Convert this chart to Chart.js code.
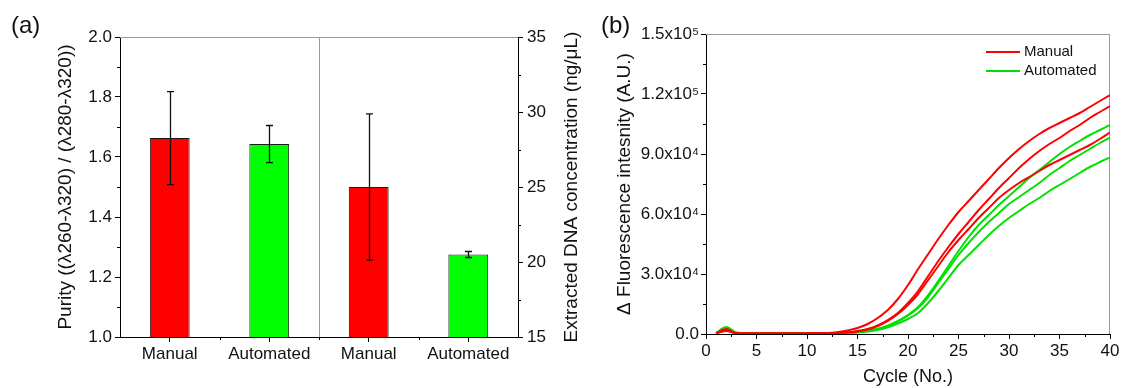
<!DOCTYPE html>
<html>
<head>
<meta charset="utf-8">
<script src="https://cdn.jsdelivr.net/npm/chart.js@4.4.1/dist/chart.umd.min.js"></script>
<style>
  html, body { margin: 0; padding: 0; background: #fff; }
  #wrap { position: relative; width: 1123px; height: 388px; overflow: hidden; }
  canvas { position: absolute; top: 0; }
  #chartA { left: 0; }
  #chartB { left: 590px; }
  .tag { position: absolute; font: 24px "Liberation Sans", Arial, sans-serif; color: #111; }
</style>
</head>
<body>
<div id="wrap">
  <canvas id="chartA" width="590" height="388"></canvas>
  <canvas id="chartB" width="533" height="388"></canvas>
  <div class="tag" style="left:11px;top:11px">(a)</div>
  <div class="tag" style="left:601px;top:11px">(b)</div>
</div>
<script>
// ---- panel (a): purity / concentration ----
const barLabels   = ['Manual', 'Automated', 'Manual', 'Automated'];
const purityMeans = [1.663, 1.643, null, null];
const puritySD    = [0.155, 0.062, null, null];
const concMeans   = [null, null, 25.0, 20.5];
const concSD      = [null, null, 4.87, 0.20];
const barColors   = ['#ff0000', '#00ff00', '#ff0000', '#00ff00'];
const purityMinor = [1.1, 1.3, 1.5, 1.7, 1.9];
const concMinor   = [17.5, 22.5, 27.5, 32.5];
const catBounds   = [0.5, 1.5, 2.5];

// ---- panel (b): amplification curves ----
const cycles = [1, 2, 3, 4, 5, 6, 7, 8, 9, 10, 11, 12, 13, 14, 15, 16, 17, 18, 19, 20,
                21, 22, 23, 24, 25, 26, 27, 28, 29, 30, 31, 32, 33, 34, 35, 36, 37, 38, 39, 40];
const manualA = [500, 1500, 400, 300, 300, 300, 300, 300, 300, 300, 400, 500, 900, 1800, 3000, 5000, 8000, 12000, 17500, 24500,
                 32500, 40000, 47500, 54500, 61000, 66500, 72000, 77500, 83000, 88000, 92500, 96500, 100000, 103000, 105500, 108000, 110500, 113500, 116500, 119500];
const manualB = [400, 1800, 300, 300, 300, 300, 300, 300, 300, 300, 400, 500, 600, 900, 1500, 2500, 4300, 7000, 10500, 15500,
                 21500, 29000, 36500, 43500, 50000, 56000, 62000, 67500, 73000, 78000, 83000, 87500, 91500, 95000, 98000, 101500, 104500, 108000, 111000, 114000];
const manualC = [300, 2500, 300, 300, 300, 300, 300, 300, 300, 300, 400, 500, 500, 800, 1300, 2200, 3900, 6500, 10000, 14500,
                 20000, 27000, 34000, 41000, 47000, 52500, 58000, 63000, 68000, 72000, 75500, 78500, 81500, 84500, 87000, 89500, 92000, 94500, 97500, 100800];
const autoA   = [500, 3500, 800, 400, 400, 400, 400, 400, 400, 400, 400, 500, 500, 700, 1000, 1600, 2600, 4200, 6500, 9500,
                 13500, 19500, 26500, 34000, 41500, 48500, 54500, 59500, 64500, 69000, 73500, 78000, 82000, 86000, 90000, 93500, 96500, 99500, 102000, 104500];
const autoB   = [400, 2500, 600, 400, 400, 400, 400, 400, 400, 400, 400, 450, 500, 650, 900, 1400, 2400, 4000, 6200, 9300,
                 13000, 18500, 25500, 32500, 39500, 45500, 51000, 56000, 60500, 65000, 68500, 72000, 75500, 79500, 83000, 86500, 89500, 92500, 95500, 98200];
const autoC   = [300, 2000, 500, 400, 400, 400, 400, 400, 400, 400, 400, 450, 450, 550, 800, 1200, 2000, 3300, 5200, 7500,
                 10500, 15500, 21500, 28000, 34500, 39500, 44500, 49500, 54000, 58000, 61500, 65000, 68000, 71500, 74500, 77500, 80500, 83500, 86000, 88300];
const fluoMinor  = [15000, 45000, 75000, 105000, 135000];
const cycleMinor = [2.5, 7.5, 12.5, 17.5, 22.5, 27.5, 32.5, 37.5];

const FONT = '"Liberation Sans", Arial, sans-serif';
const TXT = '#111';
const RED = '#ff0000';
const GREEN = '#00e000';

const axisLine = { color: '#000', width: 1 };
const outTicks = { drawOnChartArea: false, drawTicks: true, tickLength: 5, tickColor: '#000', tickWidth: 1 };
const tickFont = { family: FONT, size: 17 };
const titleFont = { family: FONT, size: 19 };

// short outward ticks between the labelled ones
const minorTicks = {
  id: 'minorTicks',
  afterDraw(chart, args, opts) {
    const ctx = chart.ctx;
    ctx.save();
    ctx.strokeStyle = '#000';
    ctx.lineWidth = 1;
    (opts.list || []).forEach(({ axis, values }) => {
      const s = chart.scales[axis];
      values.forEach(v => {
        const p = Math.round(s.getPixelForValue(v)) + 0.5;
        ctx.beginPath();
        if (s.isHorizontal()) { ctx.moveTo(p, s.top); ctx.lineTo(p, s.top + 3); }
        else if (s.position === 'left') { ctx.moveTo(s.right, p); ctx.lineTo(s.right - 3, p); }
        else { ctx.moveTo(s.left, p); ctx.lineTo(s.left + 3, p); }
        ctx.stroke();
      });
    });
    ctx.restore();
  }
};

// grey top/right frame and the divider in (a)
const frame = {
  id: 'frame',
  beforeDatasetsDraw(chart, args, opts) {
    const { left, right, top, bottom } = chart.chartArea;
    const ctx = chart.ctx;
    ctx.save();
    ctx.strokeStyle = '#9a9a9a';
    ctx.lineWidth = 1;
    ctx.beginPath();
    ctx.moveTo(left, top + 0.5); ctx.lineTo(right, top + 0.5);
    if (opts.rightEdge) { ctx.moveTo(right - 0.5, top); ctx.lineTo(right - 0.5, bottom); }
    if (opts.divider != null) {
      const x = Math.round(chart.scales.x.getPixelForValue(opts.divider)) + 0.5;
      ctx.moveTo(x, top); ctx.lineTo(x, bottom);
    }
    ctx.stroke();
    ctx.restore();
  }
};

// right-hand title that reads bottom-to-top, like the left one
const rightTitle = {
  id: 'rightTitle',
  afterDraw(chart, args, opts) {
    const s = chart.scales[opts.axis];
    const ctx = chart.ctx;
    ctx.save();
    ctx.translate(s.right - opts.inset, (s.top + s.bottom) / 2);
    ctx.rotate(-Math.PI / 2);
    ctx.font = titleFont.size + 'px ' + FONT;
    ctx.fillStyle = TXT;
    ctx.textAlign = 'center';
    ctx.textBaseline = 'middle';
    ctx.fillText(opts.text, 0, 0);
    ctx.restore();
  }
};

const errorBars = {
  id: 'errorBars',
  afterDatasetsDraw(chart) {
    const ctx = chart.ctx;
    ctx.save();
    ctx.strokeStyle = '#111';
    ctx.lineWidth = 1.3;
    chart.data.datasets.forEach((ds, i) => {
      const meta = chart.getDatasetMeta(i);
      const ys = chart.scales[ds.yAxisID];
      meta.data.forEach((bar, j) => {
        const v = ds.data[j], e = ds.errors[j];
        if (v == null || e == null) return;
        const x = Math.round(bar.x) + 0.5;
        const y1 = ys.getPixelForValue(v + e), y2 = ys.getPixelForValue(v - e);
        ctx.beginPath();
        ctx.moveTo(x, y1); ctx.lineTo(x, y2);
        ctx.moveTo(x - 3.5, y1); ctx.lineTo(x + 3.5, y1);
        ctx.moveTo(x - 3.5, y2); ctx.lineTo(x + 3.5, y2);
        ctx.stroke();
      });
    });
    ctx.restore();
  }
};

const lineLegend = {
  id: 'lineLegend',
  afterDraw(chart, args, opts) {
    const ctx = chart.ctx;
    ctx.save();
    ctx.font = '15px ' + FONT;
    ctx.textBaseline = 'middle';
    opts.items.forEach((idx, k) => {
      const ds = chart.data.datasets[idx];
      const y = opts.y[k];
      ctx.strokeStyle = ds.borderColor;
      ctx.lineWidth = 2;
      ctx.beginPath(); ctx.moveTo(opts.x, y); ctx.lineTo(opts.x + 34, y); ctx.stroke();
      ctx.fillStyle = TXT;
      ctx.fillText(ds.label, opts.x + 38, y);
    });
    ctx.restore();
  }
};

const barStyle = { borderColor: '#1a1a1a', borderWidth: 1, barPercentage: 0.4, categoryPercentage: 1, grouped: false };

new Chart(document.getElementById('chartA'), {
  type: 'bar',
  data: {
    labels: barLabels,
    datasets: [
      { label: 'Purity', data: purityMeans, errors: puritySD, yAxisID: 'y', backgroundColor: barColors, ...barStyle },
      { label: 'Concentration', data: concMeans, errors: concSD, yAxisID: 'y1', backgroundColor: barColors, ...barStyle },
    ],
  },
  options: {
    responsive: false,
    animation: false,
    layout: { padding: { top: 37, right: 0, left: 0, bottom: 0 } },
    plugins: {
      legend: { display: false },
      tooltip: { enabled: false },
      minorTicks: { list: [{ axis: 'y', values: purityMinor }, { axis: 'y1', values: concMinor }, { axis: 'x', values: catBounds }] },
      frame: { divider: 1.5 },
      rightTitle: { axis: 'y1', text: 'Extracted DNA concentration (ng/μL)', inset: 18 },
    },
    scales: {
      x: {
        offset: true,
        grid: { ...outTicks, offset: false },
        border: axisLine,
        ticks: { font: tickFont, color: TXT, padding: 2, maxRotation: 0 },
        afterFit: s => { s.height = 51; },
      },
      y: {
        position: 'left', min: 1, max: 2,
        grid: outTicks, border: axisLine,
        ticks: { stepSize: 0.2, font: tickFont, color: TXT, padding: 3, callback: v => Number(v).toFixed(1) },
        title: { display: true, text: 'Purity ((λ260-λ320) / (λ280-λ320))', font: titleFont, color: TXT, padding: { top: 54, bottom: 0 } },
        afterFit: s => { s.width = 120; },
      },
      y1: {
        position: 'right', min: 15, max: 35,
        grid: outTicks, border: axisLine,
        ticks: { stepSize: 5, font: tickFont, color: TXT, padding: 4 },
        afterFit: s => { s.width = 72; },
      },
    },
  },
  plugins: [frame, errorBars, minorTicks, rightTitle],
});

const curve = (label, values, color) => ({
  label,
  data: cycles.map((c, i) => ({ x: c, y: values[i] })),
  borderColor: color,
  borderWidth: 2,
  pointRadius: 0,
  cubicInterpolationMode: 'monotone',
  fill: false,
});

const fluoLabel = v => {
  if (v === 0) return '0.0';
  return v < 100000 ? (v / 1e4).toFixed(1) + 'x10⁴' : (v / 1e5).toFixed(1) + 'x10⁵';
};

new Chart(document.getElementById('chartB'), {
  type: 'line',
  data: {
    datasets: [
      curve('Manual', manualA, RED),
      curve('Manual', manualB, RED),
      curve('Manual', manualC, RED),
      curve('Automated', autoA, GREEN),
      curve('Automated', autoB, GREEN),
      curve('Automated', autoC, GREEN),
    ],
  },
  options: {
    responsive: false,
    animation: false,
    layout: { padding: { top: 34, right: 13, left: 0, bottom: 0 } },
    plugins: {
      legend: { display: false },
      tooltip: { enabled: false },
      minorTicks: { list: [{ axis: 'y', values: fluoMinor }, { axis: 'x', values: cycleMinor }] },
      frame: { rightEdge: true },
      lineLegend: { items: [0, 3], x: 396, y: [52, 71] },
    },
    scales: {
      x: {
        type: 'linear', min: 0, max: 40,
        grid: outTicks, border: axisLine,
        ticks: { stepSize: 5, font: tickFont, color: TXT, padding: 2, maxRotation: 0 },
        title: { display: true, text: 'Cycle (No.)', font: { family: FONT, size: 18 }, color: TXT, padding: { top: 0, bottom: 0 } },
        afterFit: s => { s.height = 54; },
      },
      y: {
        min: 0, max: 150000,
        grid: outTicks, border: axisLine,
        ticks: { stepSize: 30000, font: tickFont, color: TXT, padding: 2, callback: fluoLabel },
        title: { display: true, text: 'Δ Fluorescence intesnity (A.U.)', font: titleFont, color: TXT, padding: { top: 23, bottom: 0 } },
        afterFit: s => { s.width = 116; },
      },
    },
  },
  plugins: [frame, minorTicks, lineLegend],
});
</script>
</body>
</html>
